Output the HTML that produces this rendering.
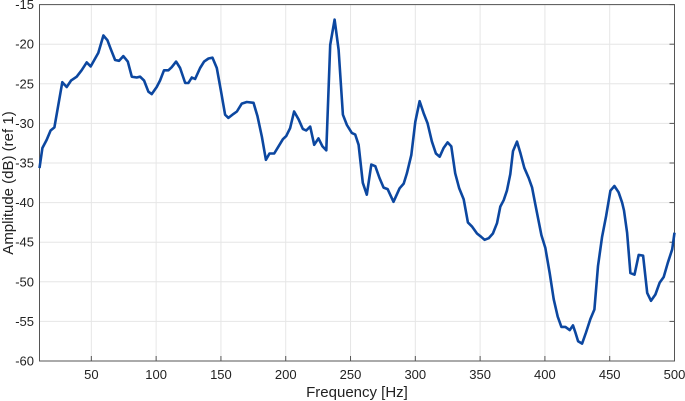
<!DOCTYPE html>
<html><head><meta charset="utf-8"><style>
html,body{margin:0;padding:0;background:#fff;}
svg{display:block;font-family:"Liberation Sans",Arial,sans-serif;}
</style></head><body>
<svg id="chart" width="685" height="401" viewBox="0 0 685 401" xmlns="http://www.w3.org/2000/svg">
<g id="grid"></g>
<g id="axes"></g>
<path id="line" fill="none" stroke="#0c47a0" stroke-width="2.6" stroke-linejoin="round"/>
<text x="357" y="397" font-size="15" text-anchor="middle" fill="#222">Frequency [Hz]</text>
<text transform="translate(13,183) rotate(-90)" font-size="15" text-anchor="middle" fill="#222">Amplitude (dB) (ref 1)</text>
</svg>
<script>
const freqs=[10,12.2,15.5,18.6,21.5,27.6,31,34.3,38.7,42.5,46.4,49.5,55.4,59.3,62.4,65.2,68.3,71.4,74.7,78.1,81.2,85,87.6,90.7,94,96.6,100.4,103,106.1,109.5,112,115.4,118.5,122.4,124.9,127.5,130.1,133.9,137,140.4,143.5,146.8,149.9,153.2,155.8,159.7,162.3,166.1,170,175.1,178.2,181.6,184.7,187.5,191.1,194.4,197.8,200.4,203.4,206.5,209.9,213.2,215.8,218.9,222,225.3,228.4,231.3,234.3,237.7,240.8,244.1,247.2,251,253.6,256.2,259.5,262.6,266,269.1,272.4,275.5,278.6,283.2,287.9,291,293.5,296.9,300,303.3,306.4,309.5,312.8,315.9,318.8,321.8,324.9,327.8,330.8,333.9,337.3,340.6,343.7,347.6,350.7,353.5,356.6,359.9,363,365.6,368.2,370.7,373.3,375.4,378.5,381,384.1,387.5,390.1,392.6,393.9,397.3,400.3,403.7,406.8,409.9,412.7,415.8,419.1,421.7,423.5,425.6,428.7,431.7,435.1,438.2,441,444.1,447.2,450.5,453.6,456.9,459.6,461,463.4,466,469.1,472.4,475.8,478.9,481.9,485.3,488.6,491.7,494.8,498.2,500];
const amps=[-35.65,-33.1,-32.1,-30.9,-30.5,-24.8,-25.4,-24.6,-24.1,-23.3,-22.3,-22.8,-21.1,-18.9,-19.5,-20.7,-22.0,-22.1,-21.5,-22.2,-24.1,-24.2,-24.1,-24.6,-26.0,-26.3,-25.4,-24.6,-23.3,-23.3,-22.9,-22.2,-23.0,-24.9,-24.9,-24.2,-24.4,-23.0,-22.2,-21.8,-21.7,-23.0,-25.8,-28.9,-29.3,-28.8,-28.5,-27.5,-27.3,-27.4,-29.1,-31.7,-34.6,-33.8,-33.8,-32.9,-32.0,-31.6,-30.6,-28.5,-29.5,-30.7,-30.9,-30.4,-32.7,-31.9,-32.9,-33.4,-20.1,-16.9,-20.7,-28.9,-30.2,-31.2,-31.4,-32.7,-37.5,-39.0,-35.2,-35.4,-36.9,-38.1,-38.3,-39.9,-38.2,-37.6,-36.3,-34.0,-29.8,-27.2,-28.7,-30.0,-32.3,-33.8,-34.2,-33.1,-32.4,-32.9,-36.3,-38.2,-39.6,-42.5,-43.0,-43.9,-44.3,-44.7,-44.5,-43.9,-42.6,-40.5,-39.7,-38.5,-36.4,-33.5,-32.3,-33.7,-35.6,-36.9,-38.1,-40.2,-41.3,-44.1,-45.7,-48.9,-52.2,-54.4,-55.7,-55.7,-56.1,-55.5,-56.4,-57.5,-57.8,-56.4,-54.7,-53.5,-48.0,-44.3,-41.7,-38.5,-37.9,-38.7,-40.0,-41.0,-43.8,-48.9,-49.1,-46.6,-46.7,-51.4,-52.4,-51.6,-50.1,-49.4,-47.6,-45.9,-43.8];
const xTicks=[50,100,150,200,250,300,350,400,450,500];
const yTicks=[-15,-20,-25,-30,-35,-40,-45,-50,-55,-60];
const X0=39.5,X1=674.5,Y0=4.6,Y1=361;
const xs=v=>X0+(v-10)/(500-10)*(X1-X0);
const ys=v=>Y0+(-15-v)/45*(Y1-Y0);
const NS="http://www.w3.org/2000/svg";
const grid=document.getElementById('grid'),axes=document.getElementById('axes');
function mk(tag,attrs,parent){const e=document.createElementNS(NS,tag);for(const k in attrs)e.setAttribute(k,attrs[k]);parent.appendChild(e);return e;}
xTicks.forEach(t=>{
 const x=xs(t);
 const g=mk('line',{x1:x,x2:x,y1:Y0,y2:Y1,stroke:'#e6e6e6','stroke-width':1},grid);
 
 
 const tk=mk('line',{x1:x,x2:x,y1:Y1,y2:Y1-5,stroke:'#555','stroke-width':1},axes);
 
 
 const tx=mk('text',{x:x,y:379,'font-size':13,'text-anchor':'middle',fill:'#222'},axes);
 tx.textContent=t;
 
 
});
yTicks.forEach(t=>{
 const y=ys(t);
 const g=mk('line',{x1:X0,x2:X1,y1:y,y2:y,stroke:'#e6e6e6','stroke-width':1},grid);
 
 
 const tk=mk('line',{x1:X1,x2:X1-5,y1:y,y2:y,stroke:'#555','stroke-width':1},axes);
 
 
 const tx=mk('text',{x:34,y:y+4.5,'font-size':13,'text-anchor':'end',fill:'#222'},axes);
 tx.textContent=t;
 
 
});
const box=mk('rect',{x:X0,y:Y0,width:X1-X0,height:Y1-Y0,fill:'none',stroke:'#555','stroke-width':1},axes);


document.getElementById('line').setAttribute('d',freqs.map((f,i)=>(i?'L':'M')+xs(f).toFixed(1)+','+ys(amps[i]).toFixed(1)).join(''));
</script>
</body></html>
